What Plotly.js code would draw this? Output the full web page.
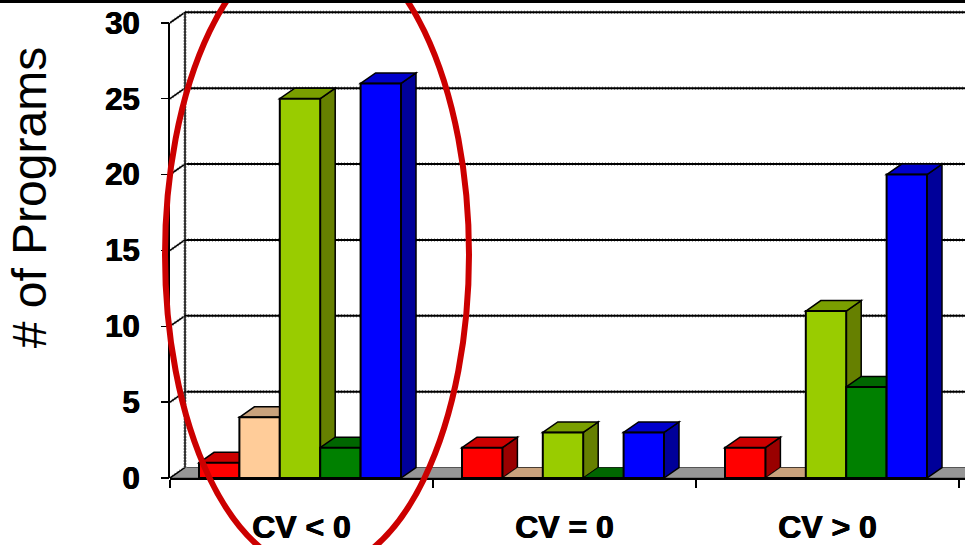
<!DOCTYPE html>
<html>
<head>
<meta charset="utf-8">
<script src="https://cdn.plot.ly/plotly-3.0.1.min.js"></script>
<style>html,body{margin:0;padding:0;background:#fff;overflow:hidden}#chart{width:965px;height:545px}</style>
</head>
<body>
<div id="chart"></div>
<script>
// Program counts per cost-variance bucket
const categories = ['CV < 0', 'CV = 0', 'CV > 0'];
const redValues = [1, 2, 2];
const peachValues = [4, 0, 0];
const limeValues = [25, 3, 11];
const greenValues = [2, 0, 6];
const blueValues = [26, 3, 20];
const yTicks = [0, 5, 10, 15, 20, 25, 30];

// Face colours: front, top, side
const palette = [
  ['#ff0000', '#cc0000', '#990000'],
  ['#ffcc99', '#c9a27c', '#99795c'],
  ['#99cc00', '#7a9f00', '#668000'],
  ['#008000', '#006600', '#004d00'],
  ['#0000ff', '#0000cc', '#000099']
];
const series = [redValues, peachValues, limeValues, greenValues, blueValues];

// Plot geometry
const W = 965, H = 545, left = 170, baseline = 478.5;
const pxPerCategory = 263, pxPerUnit = 15.19;
const xRange = [-0.5, -0.5 + (W - left) / pxPerCategory];
const yRange = [0, baseline / pxPerUnit];
const depthX = 15 / pxPerCategory, depthY = 10.5 / pxPerUnit;
const barWidth = 40.4 / pxPerCategory, groupShift = -1.5 / pxPerCategory;
const barOffset = s => (s - 2.5) * barWidth + groupShift;

const poly = pts => 'M' + pts.map(p => p[0] + ' ' + p[1]).join(' L') + ' Z';
const face = (pts, fill, width) => ({
  type: 'path', xref: 'x', yref: 'y', layer: 'below', path: poly(pts),
  fillcolor: fill, line: {color: '#000', width: width}
});
const seg = (x0, y0, x1, y1, color, width, dash) => ({
  type: 'line', xref: 'x', yref: 'y', layer: 'below', x0, y0, x1, y1,
  line: {color, width, dash: dash || 'solid'}
});

const shapes = [];
const xL = xRange[0], xR = xRange[1] + 1;
const speck = '1px,2px';

// Floor of the box
shapes.push({
  type: 'path', xref: 'x', yref: 'y', layer: 'below',
  path: poly([[xL, 0], [xL + depthX, depthY], [xR, depthY], [xR, 0]]),
  fillcolor: '#969696', line: {color: '#555', width: 1}
});

// Back wall gridlines and their diagonals on the side wall
yTicks.forEach(v => {
  [['#999', 3.5, speck], ['#000', 2, 'solid']].forEach(([c, w, d]) => {
    if (v > 0) shapes.push(seg(xL + depthX, v + depthY, xR, v + depthY, c, w, d));
    shapes.push(seg(xL, v, xL + depthX, v + depthY, c, w === 2 ? 1.5 : 3, d));
  });
});
shapes.push(seg(xL + depthX, depthY, xL + depthX, 30 + depthY, '#999', 4, speck));
shapes.push(seg(xL + depthX, depthY, xL + depthX, 30 + depthY, '#000', 1.5));

// Top and side faces of each bar, left to right so nearer faces overlap
categories.forEach((_, i) => {
  series.forEach((vals, s) => {
    const v = vals[i], x0 = i + barOffset(s), x1 = x0 + barWidth;
    if (v > 0) {
      shapes.push(face([[x1, 0], [x1 + depthX, depthY], [x1 + depthX, v + depthY], [x1, v]], palette[s][2], 1.5));
    }
    shapes.push(face([[x0, v], [x0 + depthX, v + depthY], [x1 + depthX, v + depthY], [x1, v]], palette[s][1], v > 0 ? 1.5 : 0.5));
  });
});

// Front vertical axis line, from 0 up to the top tick
shapes.push({
  type: 'line', xref: 'paper', yref: 'y', layer: 'above',
  x0: -1 / (W - left), x1: -1 / (W - left), y0: 0, y1: 30,
  line: {color: '#000', width: 2}
});

// Oval highlighting the first group
shapes.push({
  type: 'circle', xref: 'paper', yref: 'paper', layer: 'above',
  x0: (165 - left) / (W - left), x1: (469 - left) / (W - left),
  y0: (H - 66.5 - 571) / baseline, y1: (H - 66.5 + 61) / baseline,
  line: {color: '#cc0000', width: 6}, fillcolor: 'rgba(0,0,0,0)'
});
// Rule across the top edge
shapes.push({
  type: 'rect', xref: 'paper', yref: 'paper', layer: 'above',
  x0: -0.25, x1: 1, y0: (baseline - 3) / baseline, y1: 1,
  fillcolor: '#000', line: {width: 0}
});

// Front faces as bar traces
const traces = series.map((vals, s) => ({
  type: 'bar',
  x: categories.map((_, i) => i),
  y: vals,
  width: barWidth,
  offset: barOffset(s),
  marker: {color: palette[s][0], line: {color: '#000', width: 2}},
  hoverinfo: 'y'
}));

const heavy = '0.5px 0 0.5px #000, -0.5px 0 0.5px #000';
const labelFont = {family: '"Liberation Sans", Arial, sans-serif', size: 31, color: '#000', weight: 'bold', shadow: heavy};

const layout = {
  width: W, height: H,
  margin: {l: left, r: 0, t: 0, b: 66.5, pad: 0},
  paper_bgcolor: '#fff', plot_bgcolor: '#fff',
  barmode: 'overlay',
  showlegend: false,
  xaxis: {
    range: xRange, tickvals: [0, 1, 2], ticktext: categories,
    ticks: '', ticklabelstandoff: 20,
    tickfont: Object.assign({}, labelFont, {size: 32}),
    showgrid: false, zeroline: false, showline: true, linecolor: '#000', linewidth: 1.5,
    minor: {tickvals: [-0.5, 0.5, 1.5, 2.5], ticks: 'outside', ticklen: 8, tickwidth: 1.5, tickcolor: '#000', showgrid: false}
  },
  yaxis: {
    range: yRange, tickvals: yTicks,
    ticks: 'outside', ticklen: 8, tickwidth: 1.5, tickcolor: '#000',
    ticklabelstandoff: 15,
    tickfont: labelFont,
    showgrid: false, zeroline: false, showline: false
  },
  annotations: [{
    text: '# of Programs', textangle: -90, showarrow: false,
    xref: 'paper', yref: 'paper', xanchor: 'center', yanchor: 'middle',
    x: (29 - left) / (W - left), y: (baseline - 198.5) / baseline,
    font: {family: '"Liberation Sans", Arial, sans-serif', size: 48, color: '#000'}
  }],
  shapes: shapes
};

Plotly.newPlot('chart', traces, layout, {displayModeBar: false, staticPlot: true});
</script>
</body>
</html>
